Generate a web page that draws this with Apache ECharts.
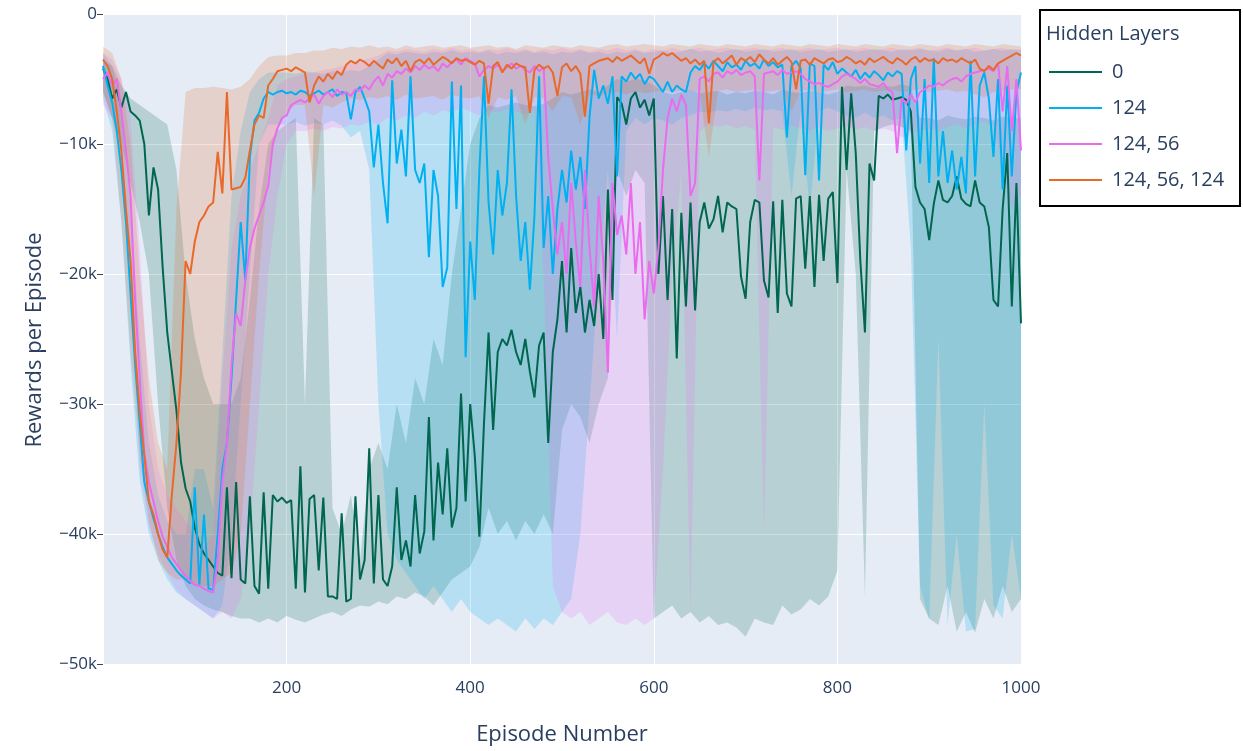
<!DOCTYPE html>
<html><head><meta charset="utf-8">
<script src="https://cdn.jsdelivr.net/npm/echarts@6/dist/echarts.min.js"></script>
<style>html,body{margin:0;padding:0;background:#fff;}#c{width:1243px;height:751px;}</style>
</head><body><div id="c"></div>
<script>
// Rewards per episode, in thousands. Lines sampled every 5 episodes, bands every 10.
const LINE_STEP = 5;
const BAND_STEP = 10;
const seriesNames = ['0', '124', '124, 56', '124, 56, 124'];
const seriesColors = ['#00664f', '#00b0f0', '#ea6cee', '#e8692a'];
const bandColors = ['rgba(0,102,79,0.2)', 'rgba(0,176,240,0.2)', 'rgba(234,108,238,0.2)', 'rgba(232,105,42,0.2)'];
const xTickValues = [200, 400, 600, 800, 1000];
const yTickValues = [0, -10, -20, -30, -40, -50];

const hl0 = [
-4.2,-5.0,-6.5,-5.8,-7.2,-6.0,-7.5,-7.8,-8.2,-10.0,-15.5,-11.8,-13.5,-19.5,-24.5,-27.5,-30.5,-34.5,-36.5,-37.5,
-39.5,-40.8,-41.5,-42.0,-42.5,-43.0,-43.2,-36.4,-43.4,-36.0,-43.5,-43.8,-37.1,-44.0,-44.6,-36.8,-44.2,-37.0,-37.5,-37.2,
-37.6,-37.4,-44.2,-34.8,-44.5,-37.3,-37.0,-42.8,-37.2,-44.8,-44.8,-45.0,-38.4,-45.2,-45.0,-37.1,-43.5,-42.0,-33.4,-43.8,
-37.0,-43.5,-44.0,-42.5,-36.4,-42.0,-40.5,-42.5,-37.0,-41.5,-39.8,-31.0,-40.5,-34.5,-38.5,-33.4,-39.5,-38.0,-29.2,-37.5,
-30.0,-34.0,-40.2,-31.5,-24.5,-32.0,-26.0,-25.0,-25.5,-24.3,-26.0,-27.0,-25.0,-27.5,-29.5,-25.5,-24.5,-33.0,-26.0,-23.5,
-19.0,-24.5,-18.0,-23.0,-21.0,-24.5,-22.0,-24.0,-20.0,-25.0,-13.5,-22.0,-6.4,-6.9,-8.5,-6.5,-6.0,-7.2,-6.6,-7.8,
-6.5,-20.0,-14.0,-22.0,-15.0,-26.5,-15.3,-22.5,-14.5,-22.8,-16.0,-14.5,-16.5,-15.8,-14.0,-16.8,-14.5,-14.8,-15.0,-20.2,
-21.9,-16.0,-14.3,-14.5,-20.5,-21.8,-14.4,-23.0,-14.3,-21.5,-22.5,-14.2,-14.0,-19.6,-14.0,-21.0,-13.9,-19.0,-14.2,-13.7,
-20.7,-5.6,-12.0,-6.1,-10.7,-19.0,-24.5,-11.5,-12.8,-6.3,-6.5,-6.2,-6.6,-6.5,-6.4,-6.6,-7.5,-13.3,-14.5,-15.0,
-17.4,-14.6,-12.8,-14.3,-14.5,-14.0,-12.5,-14.2,-14.6,-14.8,-12.8,-14.5,-14.8,-16.4,-22.0,-22.5,-15.0,-10.7,-22.5,-13.0,
-23.8];

const hl124 = [
-4.0,-5.5,-6.8,-9.0,-12.0,-16.0,-21.5,-27.0,-31.5,-36.0,-37.5,-38.8,-40.0,-41.0,-41.8,-42.3,-42.8,-43.2,-43.5,-43.8,
-36.4,-43.9,-38.5,-44.2,-44.3,-40.0,-35.0,-33.0,-28.0,-22.0,-16.0,-20.5,-11.0,-8.2,-7.6,-6.5,-6.0,-6.2,-6.0,-5.9,
-6.1,-6.0,-6.2,-5.9,-6.0,-6.3,-6.1,-5.9,-6.2,-6.0,-5.8,-6.3,-6.0,-6.1,-8.1,-6.0,-5.6,-6.5,-7.5,-11.8,
-8.5,-13.0,-16.1,-5.1,-11.5,-8.9,-12.5,-4.8,-12.0,-13.0,-11.5,-18.7,-12.0,-14.0,-21.0,-19.5,-5.2,-15.0,-5.5,-26.4,
-17.5,-22.0,-12.0,-4.8,-14.5,-18.5,-12.0,-15.5,-13.0,-5.8,-14.0,-19.0,-16.0,-21.2,-15.5,-4.8,-18.0,-14.0,-20.0,-15.0,
-12.0,-14.5,-10.5,-13.5,-11.0,-15.0,-7.9,-4.3,-6.5,-5.5,-6.9,-4.8,-12.5,-4.8,-5.2,-4.5,-5.0,-4.6,-5.4,-4.8,
-5.0,-5.5,-6.0,-5.2,-6.0,-5.5,-5.8,-6.0,-4.5,-4.0,-4.3,-3.8,-4.2,-3.6,-4.0,-4.4,-3.7,-4.1,-3.9,-4.3,
-3.6,-4.0,-3.8,-4.2,-3.5,-4.0,-3.7,-4.1,-3.9,-9.5,-4.0,-3.6,-4.2,-12.4,-3.8,-4.0,-12.8,-3.9,-4.3,-3.7,
-4.6,-4.2,-4.5,-4.8,-4.3,-5.0,-4.5,-4.9,-4.4,-4.7,-5.1,-4.5,-4.8,-4.4,-4.6,-10.5,-5.0,-4.0,-11.5,-5.0,
-13.0,-3.4,-12.5,-9.0,-13.0,-10.5,-13.5,-11.0,-13.8,-3.6,-12.5,-5.5,-4.5,-6.5,-11.0,-5.0,-13.5,-5.5,-12.5,-6.0,
-4.5];

const hl124_56 = [
-5.0,-4.5,-5.5,-5.0,-7.5,-10.5,-14.0,-22.0,-28.0,-33.8,-36.0,-37.5,-39.0,-40.2,-41.0,-41.8,-42.3,-42.8,-43.2,-43.6,
-43.9,-44.0,-44.2,-44.4,-44.5,-42.0,-36.0,-33.0,-27.0,-23.0,-24.0,-20.5,-18.0,-16.5,-15.5,-14.5,-13.2,-10.0,-8.8,-8.0,
-7.8,-7.0,-6.8,-6.6,-6.8,-6.5,-6.2,-6.9,-6.3,-6.0,-6.4,-5.8,-6.2,-6.0,-6.3,-5.8,-5.9,-5.5,-5.8,-5.2,
-4.8,-5.5,-4.6,-4.9,-4.4,-4.6,-4.2,-4.5,-4.0,-4.3,-3.9,-4.2,-4.0,-4.4,-3.8,-4.1,-3.7,-3.5,-3.9,-3.4,
-3.6,-3.8,-4.8,-4.3,-4.0,-4.2,-3.9,-4.4,-4.1,-3.8,-4.2,-4.0,-4.3,-4.5,-4.0,-4.4,-4.1,-11.0,-15.0,-18.5,
-16.0,-20.0,-13.0,-17.5,-21.0,-12.0,-18.0,-22.5,-14.0,-19.0,-27.6,-13.0,-17.0,-15.5,-18.5,-13.0,-20.0,-16.0,-23.5,-19.0,
-21.5,-18.0,-12.0,-8.0,-6.5,-7.5,-6.2,-7.0,-14.0,-13.0,-5.0,-4.8,-5.2,-4.6,-4.5,-4.9,-4.4,-4.6,-4.3,-4.7,
-4.5,-4.4,-4.8,-12.8,-4.6,-4.5,-4.4,-4.7,-4.3,-4.6,-4.5,-4.4,-4.6,-5.0,-5.2,-5.4,-5.3,-5.5,-5.6,-5.4,
-5.2,-4.8,-4.6,-4.8,-5.0,-5.3,-5.0,-5.4,-5.5,-5.6,-5.3,-5.8,-6.0,-10.7,-6.5,-6.9,-6.2,-6.8,-6.0,-5.8,
-5.5,-5.6,-5.3,-5.5,-5.2,-5.0,-4.9,-5.2,-4.8,-4.6,-4.5,-4.4,-4.3,-4.2,-4.4,-3.8,-7.5,-4.0,-9.0,-5.0,
-10.5];

const hl124_56_124 = [
-3.5,-4.0,-5.0,-7.5,-10.5,-15.0,-19.0,-26.0,-30.5,-34.0,-37.5,-38.5,-40.0,-41.2,-41.8,-37.0,-33.0,-27.5,-19.0,-20.0,
-17.5,-16.0,-15.5,-14.8,-14.5,-10.6,-13.8,-6.0,-13.5,-13.4,-13.3,-12.6,-10.5,-8.5,-7.8,-8.0,-5.5,-5.0,-4.4,-4.3,
-4.2,-4.4,-4.1,-4.3,-4.5,-6.8,-5.5,-4.8,-5.2,-4.6,-5.0,-4.4,-4.7,-3.9,-3.6,-3.8,-3.5,-3.7,-4.0,-3.6,
-3.9,-4.2,-3.5,-3.8,-3.4,-4.0,-3.6,-4.4,-3.7,-3.5,-3.8,-3.4,-3.9,-3.6,-3.3,-3.5,-3.8,-3.4,-3.6,-3.5,
-3.7,-3.9,-3.6,-3.8,-6.9,-4.0,-3.7,-4.5,-3.9,-4.2,-3.8,-4.0,-4.1,-7.6,-4.3,-3.9,-4.2,-4.0,-4.5,-6.3,
-4.1,-3.8,-4.4,-4.0,-4.6,-7.9,-4.0,-3.8,-3.6,-3.5,-3.4,-3.7,-3.3,-3.6,-3.4,-3.2,-3.5,-3.8,-3.4,-4.6,
-3.5,-3.3,-3.0,-3.2,-3.0,-3.3,-3.6,-3.4,-3.8,-3.5,-3.9,-3.6,-8.4,-3.7,-3.4,-3.8,-3.5,-3.2,-3.9,-3.4,
-3.6,-3.3,-3.7,-3.1,-3.5,-3.8,-3.4,-3.9,-3.6,-3.3,-3.7,-5.8,-3.6,-3.5,-3.9,-3.4,-3.6,-3.8,-3.5,-3.4,
-3.7,-3.6,-3.3,-3.5,-3.8,-3.6,-3.9,-3.4,-3.7,-3.5,-3.3,-3.6,-3.8,-3.4,-3.6,-3.9,-3.5,-3.3,-3.7,-3.4,
-3.6,-3.5,-3.8,-3.4,-3.6,-3.5,-3.7,-3.4,-3.6,-3.8,-3.5,-4.2,-4.4,-4.0,-4.3,-3.8,-3.6,-3.4,-3.2,-3.0,
-3.2];

// bands (upper / lower)
const band0Up = [
-3.5,-4.0,-5.5,-6.5,-7.0,-7.5,-8.0,-8.5,-12,-20,
-25,-28,-30,-30,-30,-28,-22,-15,-10,-9,
-8.5,-8,-30,-8,-8.5,-38,-40,-37,-42,-35,
-33,-35,-30,-33,-28,-30,-25,-27,-20,-15,
-10,-8,-7,-7.2,-7,-6.8,-7,-7.1,-6.9,-6.5,
-6,-6.2,-6,-5.8,-6,-5.5,-5,-5.2,-5,-5.1,
-5.5,-6,-6.2,-6,-5.8,-6.1,-6,-5.9,-6.2,-6,
-6.1,-5.9,-6,-6.2,-5.8,-6,-6.1,-5.9,-6,-6.2,
-6,-5.5,-5.6,-5.5,-5.7,-5.5,-5.6,-5.4,-5.6,-8,
-8,-8.2,-7.8,-8,-8.1,-7.9,-8,-8.2,-7.9,-8,
-8];
const band0Lo = [
-6,-8,-10,-13,-16,-20,-30,-38,-42,-44,
-45,-45.5,-45.8,-46,-46.3,-46.5,-46.5,-46.8,-46.5,-46.8,
-46.3,-46.6,-46.8,-46.5,-46.2,-46,-46.3,-45.8,-45.5,-45.6,
-45.2,-45.4,-44.8,-45,-44.5,-44.8,-45.5,-44.5,-43.5,-43,
-42.5,-41,-38,-40,-39,-40.5,-39,-40,-38.5,-40,
-32,-30,-31,-33,-30,-28,-12,-14,-12,-13,
-46.5,-46,-45.5,-46.5,-46,-46.8,-46.3,-47,-46.8,-47.2,
-47.9,-46.5,-46.8,-47,-45.5,-46.2,-45.8,-45,-45.5,-44.8,
-42.8,-12,-20,-44.8,-9,-8.7,-8.5,-8.7,-9,-45,
-46.5,-47,-44,-47.5,-46,-47.6,-45,-46.5,-44,-46,
-45];
const band124Up = [
-3,-4,-7,-15,-25,-33,-37,-39,-40,-40,
-35,-35,-38,-26,-14,-9,-6,-5,-4.5,-4.5,
-4.5,-4.6,-4.4,-4.5,-4.6,-4.4,-4.5,-4.3,-4.4,-4,
-3.5,-3,-3.1,-2.9,-3,-3.1,-2.9,-3,-2.8,-3,
-2.9,-3,-2.8,-3.1,-2.9,-3,-2.8,-3,-2.9,-3.1,
-2.9,-3,-2.8,-3,-2.9,-3.1,-2.9,-3,-2.8,-3,
-2.9,-2.8,-3,-2.9,-2.7,-2.9,-2.8,-3,-2.8,-2.7,
-2.9,-2.8,-2.7,-2.9,-2.8,-2.7,-2.9,-2.8,-2.7,-2.9,
-2.8,-2.7,-2.9,-2.8,-2.7,-2.8,-2.9,-2.7,-2.8,-2.7,
-2.8,-2.9,-2.7,-2.8,-2.7,-2.9,-2.8,-2.7,-2.8,-2.7,
-2.8];
const band124Lo = [
-6.5,-9,-16,-27,-36,-40,-42,-43.5,-44.5,-45,
-45.5,-46,-46.5,-45.5,-40,-30,-20,-10,-8.5,-8.5,
-8.5,-8.3,-8.6,-8.4,-8.5,-8.2,-8.6,-9.5,-9,-12,
-30,-40,-42,-43,-44,-45,-44,-45,-46,-45,
-46,-46.5,-47,-46.5,-47,-47.5,-46.5,-47.3,-46.5,-47,
-46,-45,-40,-30,-20,-12,-25,-9,-8,-8.5,
-8,-8.2,-8.5,-8,-7.8,-7.5,-7.6,-7.4,-7.5,-7.3,
-7.5,-7.2,-7.4,-7.3,-7.5,-14,-7.4,-15,-7.5,-7.2,
-7.5,-7.8,-8,-7.6,-8,-7.8,-8.2,-8,-18,-44,
-46.6,-25,-47,-40,-47.5,-47.3,-30,-45.5,-46.5,-40,
-45];
const band124_56Up = [
-3,-3.5,-5,-8,-18,-30,-35,-37,-38,-39,
-40,-41,-40,-28,-18,-14,-12,-10,-8,-5.5,
-5,-4.8,-4.6,-4.5,-4.3,-4.2,-4,-3.8,-3.6,-3.4,
-3.2,-2.8,-2.9,-2.7,-2.8,-2.9,-2.7,-2.8,-2.6,-2.8,
-2.7,-2.9,-2.7,-2.8,-2.6,-2.8,-2.7,-2.9,-2.7,-2.8,
-2.6,-2.8,-2.7,-2.9,-2.7,-2.8,-2.6,-2.8,-2.7,-2.9,
-2.7,-2.8,-2.6,-2.8,-2.7,-2.6,-2.8,-2.7,-2.6,-2.8,
-2.7,-2.6,-2.8,-2.7,-2.6,-2.8,-2.7,-2.6,-2.8,-2.7,
-2.6,-2.8,-2.7,-2.6,-2.8,-2.7,-2.6,-2.8,-2.7,-2.6,
-2.8,-2.7,-2.6,-2.8,-2.7,-2.6,-2.8,-2.7,-2.6,-2.8,
-2.7];
const band124_56Lo = [
-7,-8,-11,-20,-35,-39.5,-41.5,-43,-44.3,-45,
-45.5,-46,-46.5,-46,-46.5,-45,-40,-30,-20,-14,
-10,-9,-9,-8.8,-9,-8.7,-8.8,-8.5,-8.6,-8.3,
-8.5,-8,-8.2,-7.8,-8,-7.5,-7.8,-7.4,-7.6,-7.2,
-7.5,-7.8,-7.4,-7.6,-7.3,-7.5,-7.7,-7.4,-20,-44,
-46,-46.5,-46,-47,-46.5,-46,-46.8,-47,-46.5,-47,
-46.5,-35,-20,-12,-46,-9,-8.5,-8.7,-8.5,-8.8,
-8.6,-8.9,-40,-8.7,-8.9,-8.6,-8.8,-9,-8.7,-9,
-8.8,-8.6,-8.9,-8.7,-9,-8.8,-9,-9.5,-9.2,-9,
-8.8,-9,-8.7,-8.5,-8.8,-8.5,-8.3,-8.6,-12,-15,
-14];
const band124_56_124Up = [
-2.5,-3,-5,-10,-20,-28,-33,-35,-15,-6,
-5.7,-5.7,-5.6,-5.7,-5.8,-5.6,-5,-4,-3.3,-3.2,
-3.2,-3,-3,-2.8,-2.8,-2.6,-2.7,-2.5,-2.6,-2.4,
-2.6,-2.5,-2.7,-2.4,-2.6,-2.5,-2.4,-2.6,-2.5,-2.4,
-2.6,-2.5,-2.4,-2.6,-2.5,-2.7,-2.4,-2.5,-2.6,-2.4,
-2.5,-2.6,-2.4,-2.5,-2.6,-2.4,-2.3,-2.5,-2.4,-2.3,
-2.4,-2.5,-2.3,-2.4,-2.5,-2.3,-2.4,-2.5,-2.3,-2.4,
-2.5,-2.3,-2.4,-2.5,-2.3,-2.4,-2.5,-2.3,-2.4,-2.5,
-2.3,-2.4,-2.5,-2.3,-2.4,-2.5,-2.3,-2.4,-2.5,-2.3,
-2.4,-2.5,-2.3,-2.4,-2.5,-2.3,-2.4,-2.5,-2.3,-2.4,
-2.5];
const band124_56_124Lo = [
-6,-8,-16,-26,-34,-39,-42,-43,-43.5,-43.5,
-44,-44,-44,-43.5,-43,-40,-30,-20,-12,-9,
-7.5,-7,-7,-14,-7,-7.2,-6.8,-6.5,-6.6,-6.4,
-6.5,-6.3,-6.6,-6.2,-6.5,-6.4,-6.3,-6.6,-6.2,-6.4,
-6.5,-6.3,-8,-6.4,-6.6,-6.3,-8.5,-6.4,-6.5,-7.5,
-6.3,-6.4,-8.5,-6.2,-6.3,-6.1,-6,-6.2,-5.9,-6.1,
-6,-5.8,-6,-5.9,-5.8,-6,-11,-5.9,-5.8,-6,
-5.9,-5.8,-6,-5.9,-5.8,-7.5,-5.9,-5.8,-6,-5.9,
-5.8,-6,-5.9,-5.8,-6,-5.9,-5.8,-6,-5.9,-5.8,
-6,-5.9,-5.8,-6,-5.9,-6.2,-6.4,-6,-5.9,-5.8,
-5.8];

const lineData = [hl0, hl124, hl124_56, hl124_56_124];
const bandUp = [band0Up, band124Up, band124_56Up, band124_56_124Up];
const bandLo = [band0Lo, band124Lo, band124_56Lo, band124_56_124Lo];

const FONT = 'Open Sans';
const TXT = '#2a3f5f';

const series = [];
// shaded bands: one polygon each, positioned through the axes (api.coord)
bandLo.forEach((lo, k) => {
  const up = bandUp[k];
  const pts = up.map((v, i) => [i * BAND_STEP, v]).concat(lo.map((v, i) => [i * BAND_STEP, v]).reverse());
  series.push({
    name: 'band-' + k, type: 'custom', silent: true, z: 2,
    data: pts, encode: { x: 0, y: 1 },
    renderItem: (params, api) => {
      if (params.dataIndex !== 0) return null;
      return {
        type: 'polygon',
        shape: { points: pts.map(p => api.coord(p)) },
        style: { fill: bandColors[k], stroke: null }
      };
    }
  });
});
lineData.forEach((arr, k) => {
  series.push({
    name: seriesNames[k], type: 'line', color: seriesColors[k],
    data: arr.map((v, i) => [i * LINE_STEP, v]),
    symbol: 'none', z: 3 + k,
    lineStyle: { width: 2, color: seriesColors[k] }
  });
});

const chart = echarts.init(document.getElementById('c'), null, { renderer: 'canvas' });
chart.setOption({
  animation: false,
  backgroundColor: '#ffffff',
  grid: { left: 103, right: 222, top: 14, bottom: 87, show: true, backgroundColor: '#e5ecf6', borderWidth: 0 },
  xAxis: {
    type: 'value', min: 0, max: 1000, interval: 200,
    axisLine: { show: false }, axisTick: { show: false },
    splitLine: { show: true, lineStyle: { color: '#ffffff', width: 1 } },
    axisLabel: {
      fontFamily: FONT, fontSize: 17, color: TXT, margin: 16,
      formatter: v => (xTickValues.indexOf(v) >= 0 ? String(v) : '')
    }
  },
  yAxis: {
    type: 'value', min: -50, max: 0, interval: 10,
    axisLine: { show: false },
    axisTick: { show: true, length: 6, lineStyle: { color: '#444', width: 1 } },
    splitLine: { show: true, lineStyle: { color: '#ffffff', width: 1 } },
    axisLabel: {
      fontFamily: FONT, fontSize: 17, color: TXT, margin: 6,
      formatter: v => (yTickValues.indexOf(v) < 0 ? '' : (v === 0 ? '0' : '\u2212' + Math.abs(v) + 'k'))
    }
  },
  legend: {
    data: seriesNames, orient: 'vertical', left: 1049, top: 61,
    itemWidth: 53, itemHeight: 2, itemGap: 14, icon: 'rect', padding: 0, z: 10,
    textStyle: { fontFamily: FONT, fontSize: 20, color: TXT, lineHeight: 22, padding: [0, 0, 0, 5] },
    selectedMode: false
  },
  graphic: [
    { type: 'rect', z: 5, shape: { x: 1040, y: 10, width: 200, height: 196 },
      style: { fill: '#ffffff', stroke: '#000000', lineWidth: 2 } },
    { type: 'text', z: 6, x: 1046, y: 34,
      style: { text: 'Hidden Layers', fontFamily: FONT, fontSize: 20, fill: TXT, textAlign: 'left', textVerticalAlign: 'middle' } },
    { type: 'text', z: 6, x: 35, y: 340, rotation: Math.PI / 2,
      style: { text: 'Rewards per Episode', fontFamily: FONT, fontSize: 22, fill: TXT, textAlign: 'center', textVerticalAlign: 'middle' } },
    { type: 'text', z: 6, x: 562, y: 735,
      style: { text: 'Episode Number', fontFamily: FONT, fontSize: 22, fill: TXT, textAlign: 'center', textVerticalAlign: 'middle' } }
  ],
  series: series
});
</script>
</body></html>
